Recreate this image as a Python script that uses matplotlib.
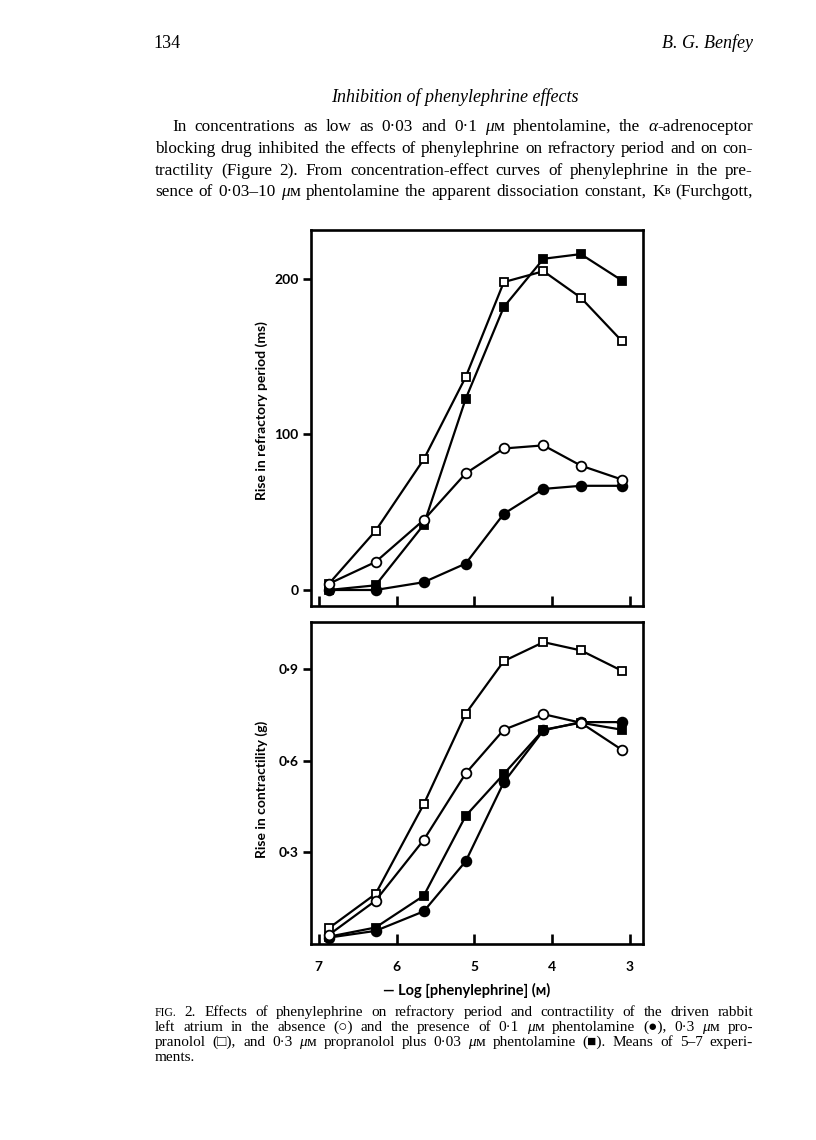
import matplotlib
matplotlib.use("Agg")
import matplotlib.pyplot as plt
from matplotlib.transforms import IdentityTransform

W, H = 816, 1140
SERIF = ["Liberation Serif", "DejaVu Serif"]
SANS = ["Lato", "DejaVu Sans"]

# --------------------------
# DATA
# --------------------------
log_conc = [6.87, 6.27, 5.65, 5.11, 4.62, 4.11, 3.63, 3.10]   # - log [phenylephrine] (M)
x_ticks = [7, 6, 5, 4, 3]

# rise in refractory period (ms)
rp_control = [4, 18, 45, 75, 91, 93, 80, 71]
rp_phentol = [0, 0, 5, 17, 49, 65, 67, 67]
rp_propran = [4, 38, 84, 137, 198, 205, 188, 160]
rp_prop_phent = [0, 3, 42, 123, 182, 213, 216, 199]
rp_ticks = [0, 100, 200]
rp_ticklabels = ["0", "100", "200"]

# rise in contractility (g)
ct_control = [0.030, 0.142, 0.341, 0.559, 0.702, 0.753, 0.725, 0.636]
ct_phentol = [0.021, 0.043, 0.107, 0.271, 0.530, 0.700, 0.727, 0.727]
ct_propran = [0.052, 0.164, 0.458, 0.755, 0.927, 0.989, 0.962, 0.895]
ct_prop_phent = [0.024, 0.054, 0.158, 0.420, 0.557, 0.702, 0.725, 0.702]
ct_ticks = [0.3, 0.6, 0.9]
ct_ticklabels = ["0·3", "0·6", "0·9"]

fig = plt.figure(figsize=(W / 100, H / 100), dpi=100)
fig.patch.set_facecolor("white")


def axes_box(left, top, right, bottom):
    return fig.add_axes([left / W, 1 - bottom / H, (right - left) / W, (bottom - top) / H])


def draw_series(ax, ys, marker, filled):
    ax.plot(log_conc, ys, color="black", lw=1.6, marker=marker,
            ms=7 if marker == "o" else 6.4, mew=1.3, mec="black",
            mfc="black" if filled else "white", clip_on=False)


def style_axes(ax, ticks, labels, show_x):
    for sp in ax.spines.values():
        sp.set_linewidth(1.9)
    ax.set_xlim(7.10, 2.83)
    ax.set_xticks(x_ticks)
    ax.set_yticks(ticks)
    ax.set_yticklabels(labels)
    ax.tick_params(axis="y", direction="out", length=6, width=1.9, pad=3)
    ax.tick_params(axis="x", direction="in", length=7, width=1.9, pad=12,
                   labelbottom=show_x)
    for lbl in ax.get_yticklabels() + ax.get_xticklabels():
        lbl.set_family(SANS)
        lbl.set_fontweight("bold")
        lbl.set_fontsize(10)


# --------------------------
# TOP PANEL: refractory period
# --------------------------
ax1 = axes_box(311, 230, 643, 606)
draw_series(ax1, rp_phentol, "o", True)
draw_series(ax1, rp_prop_phent, "s", True)
draw_series(ax1, rp_propran, "s", False)
draw_series(ax1, rp_control, "o", False)
ax1.set_ylim(-10.3, 231.5)
style_axes(ax1, rp_ticks, rp_ticklabels, False)
ax1.set_ylabel("Rise in refractory period (ms)", family=SANS, fontweight="bold", fontsize=10)
ax1.yaxis.set_label_coords(-0.13, 0.52)

# --------------------------
# BOTTOM PANEL: contractility
# --------------------------
ax2 = axes_box(311, 622, 643, 944)
draw_series(ax2, ct_phentol, "o", True)
draw_series(ax2, ct_prop_phent, "s", True)
draw_series(ax2, ct_propran, "s", False)
draw_series(ax2, ct_control, "o", False)
ax2.set_ylim(0, 1.055)
style_axes(ax2, ct_ticks, ct_ticklabels, True)
ax2.set_ylabel("Rise in contractility (g)", family=SANS, fontweight="bold", fontsize=10)
ax2.yaxis.set_label_coords(-0.13, 0.48)

fig.text(467 / W, 1 - 990 / H, "— Log [phenylephrine] (ᴍ)", family=SANS,
         fontweight="bold", fontsize=10.5, ha="center", va="center")

# --------------------------
# PAGE TEXT
# --------------------------
renderer = fig.canvas.get_renderer()
MU_M = [("μ", {"style": "italic"}), ("ᴍ", {})]


def put_line(words, x0, x1, y, size, justify=True):
    placed = []
    for w in words:
        pieces = [(w, {})] if isinstance(w, str) else w
        parts = []
        width = 0
        for s, kw in pieces:
            t = fig.text(0, 0, s, fontsize=kw.get("size", size), family=SERIF,
                         fontstyle=kw.get("style", "normal"), va="baseline",
                         transform=IdentityTransform())
            wd = t.get_window_extent(renderer).width
            parts.append((t, width, kw.get("dy", 0)))
            width += wd
        placed.append((parts, width))
    total = sum(p[1] for p in placed)
    if justify and len(placed) > 1:
        gap = (x1 - x0 - total) / (len(placed) - 1)
    else:
        gap = size * 1.389 * 0.25
    x = x0
    for parts, width in placed:
        for t, off, dy in parts:
            t.set_position((x + off, H - y - dy))
        x += width + gap


# running head
fig.text(153, H - 48, "134", fontsize=13, family=SERIF, va="baseline",
         transform=IdentityTransform())
fig.text(753, H - 48, "B. G. Benfey", fontsize=13, family=SERIF, fontstyle="italic",
         ha="right", va="baseline", transform=IdentityTransform())
fig.text(455, H - 102, "Inhibition of phenylephrine effects", fontsize=13, family=SERIF,
         fontstyle="italic", ha="center", va="baseline", transform=IdentityTransform())

para = [
    ["In", "concentrations", "as", "low", "as", "0·03", "and", "0·1", MU_M,
     "phentolamine,", "the", [("α", {"style": "italic"}), ("-adrenoceptor", {})]],
    "blocking drug inhibited the effects of phenylephrine on refractory period and on con-".split(),
    "tractility (Figure 2).  From concentration-effect curves of phenylephrine in the pre-".split(),
    ["sence", "of", "0·03–10", MU_M, "phentolamine", "the", "apparent", "dissociation",
     "constant,", [("K", {}), ("ʙ", {"size": 8.5, "dy": -2})], "(Furchgott,"],
]
para_y = [131, 153, 175, 196]
for i, (words, y) in enumerate(zip(para, para_y)):
    put_line(words, 172 if i == 0 else 155, 753, y, 12.4)

caption = [
    [[("FIG.", {"size": 8.5})], "2.", "Effects", "of", "phenylephrine", "on", "refractory", "period",
     "and", "contractility", "of", "the", "driven", "rabbit"],
    ["left", "atrium", "in", "the", "absence", "(○)", "and", "the", "presence", "of", "0·1", MU_M,
     "phentolamine", "(●),", "0·3", MU_M, "pro-"],
    ["pranolol", "(□),", "and", "0·3", MU_M, "propranolol", "plus", "0·03", MU_M,
     "phentolamine", "(■).", "Means", "of", "5–7", "experi-"],
    ["ments."],
]
cap_y = [1016, 1031, 1046, 1061]
for i, (words, y) in enumerate(zip(caption, cap_y)):
    put_line(words, 155, 753, y, 11, justify=(i < 3))

fig.savefig("out.png", dpi=100, facecolor="white")
